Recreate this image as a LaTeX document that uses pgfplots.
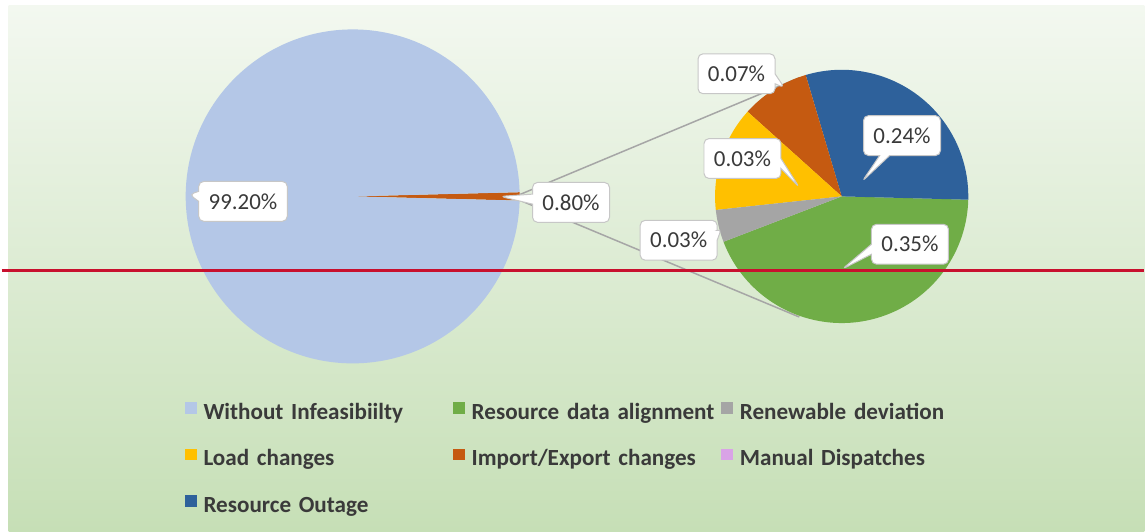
\documentclass[border=0pt]{standalone}
\usepackage{pgfplots}
\pgfplotsset{compat=1.18}
\usepackage{pgfplotstable}
\usepackage{fontspec}
\setmainfont{Carlito}
\usetikzlibrary{shapes.callouts}

\definecolor{bgtop}{HTML}{F3F8F0}
\definecolor{bgbot}{HTML}{C6DFB6}
\definecolor{cNone}{HTML}{B4C7E7}
\definecolor{cAlign}{HTML}{70AD47}
\definecolor{cRenew}{HTML}{A5A5A5}
\definecolor{cLoad}{HTML}{FFC000}
\definecolor{cImpExp}{HTML}{C55A11}
\definecolor{cManual}{HTML}{D9A3E6}
\definecolor{cOutage}{HTML}{2E619B}
\definecolor{txt}{HTML}{3A3A3A}
\definecolor{connector}{HTML}{A6A6A6}
\definecolor{redline}{HTML}{C8102E}

% primary pie (share of runs, %), label box centre lx,ly and pointer tip px,py in pixels
\pgfplotstableread{
value colour label lx ly px py
0.80  cImpExp 0.80  571 203 500 197
99.20 cNone   99.20 242 202 188 195
}\primary

% secondary pie: split of the 0.80 %
\pgfplotstableread{
value colour label lx ly px py
0.350 cAlign  0.35 911 245 843 270
0.240 cOutage 0.24 903 136 863 182
0.070 cImpExp 0.07 737 74  785 88
0.107 cLoad   0.03 743 159 800 188
0.033 cRenew  0.03 679 241 722 229
}\secondary

\tikzset{lbl/.style={rectangle callout, fill=white, draw=black!22, line width=0.5pt,
  rounded corners=2.5pt, inner xsep=5pt, inner ysep=0pt, minimum height=20pt,
  text=txt, font=\fontsize{11.5}{13}\selectfont, callout pointer width=5pt}}

% #1 table, #2 cx, #3 cy, #4 radius, #5 start angle, #6 total
\newcommand\drawpie[6]{%
  \pgfplotstablegetrowsof{#1}%
  \pgfmathtruncatemacro\lastrow{\pgfplotsretval-1}%
  \edef\curang{#5}%
  \pgfplotsforeachungrouped \r in {0,...,\lastrow}{%
    \pgfplotstablegetelem{\r}{value}\of{#1}\let\val\pgfplotsretval
    \pgfplotstablegetelem{\r}{colour}\of{#1}\let\col\pgfplotsretval
    \pgfmathsetmacro\nextang{\curang+(\val/#6)*360}%
    \edef\temp{\noexpand\fill[\col] (axis cs:#2,#3) -- ++(\curang:#4)
      arc[start angle=\curang, end angle=\nextang, radius=#4] -- cycle;}%
    \temp
    \let\curang\nextang
  }%
}

\newcommand\drawlabels[1]{%
  \pgfplotstablegetrowsof{#1}%
  \pgfmathtruncatemacro\lastrow{\pgfplotsretval-1}%
  \pgfplotsforeachungrouped \r in {0,...,\lastrow}{%
    \pgfplotstablegetelem{\r}{label}\of{#1}\let\lab\pgfplotsretval
    \pgfplotstablegetelem{\r}{lx}\of{#1}\let\lx\pgfplotsretval
    \pgfplotstablegetelem{\r}{ly}\of{#1}\let\ly\pgfplotsretval
    \pgfplotstablegetelem{\r}{px}\of{#1}\let\px\pgfplotsretval
    \pgfplotstablegetelem{\r}{py}\of{#1}\let\py\pgfplotsretval
    \edef\temp{\noexpand\node[lbl, callout absolute pointer={(axis cs:\px,\py)}]
      at (axis cs:\lx,\ly) {\lab\noexpand\%};}%
    \temp
  }%
}

\begin{document}
\begin{tikzpicture}
\begin{axis}[
  width=573pt, height=266.5pt, scale only axis,
  xmin=0, xmax=1146, ymin=0, ymax=533, y dir=reverse,
  hide axis, clip=false,
  legend columns=3,
  legend image code/.code={\fill[#1, draw=none] (0pt,0pt) rectangle (6pt,6pt);},
  legend style={at={(axis cs:183,403)}, anchor=north west, draw=none, fill=none,
    inner sep=0pt, text=txt, row sep=12pt,
    font=\fontsize{11.6}{13}\selectfont\bfseries,
    nodes={inner sep=0pt, text height=8pt, text depth=2.5pt},
    /tikz/every odd column/.append style={column sep=3.5pt}},
]
% frame and background
\fill[white] (axis cs:0,0) rectangle (axis cs:1146,533);
\shade[top color=bgtop, bottom color=bgbot] (axis cs:7,6) rectangle (axis cs:1146,533);

% connector lines between the pies
\draw[connector, line width=0.75pt] (axis cs:520,195) -- (axis cs:800,78);
\draw[connector, line width=0.75pt] (axis cs:520,201) -- (axis cs:800,318);

\drawpie{\primary}{352}{197}{83.75pt}{-1.44}{100}
\drawpie{\secondary}{842.5}{197}{63.5pt}{201}{0.80}

\drawlabels{\primary}
\drawlabels{\secondary}

\draw[redline, line width=1.75pt] (axis cs:0,271.5) -- (axis cs:1146,271.5);

\addlegendimage{fill=cNone}
\addlegendentry[text width=125pt]{Without Infeasibiilty}
\addlegendimage{fill=cAlign}
\addlegendentry[text width=125pt]{Resource data alignment}
\addlegendimage{fill=cRenew}
\addlegendentry[text width=125pt]{Renewable deviation}
\addlegendimage{fill=cLoad}
\addlegendentry[text width=125pt]{Load changes}
\addlegendimage{fill=cImpExp}
\addlegendentry[text width=125pt]{Import/Export changes}
\addlegendimage{fill=cManual}
\addlegendentry[text width=125pt]{Manual Dispatches}
\addlegendimage{fill=cOutage}
\addlegendentry[text width=125pt]{Resource Outage}
\end{axis}
\end{tikzpicture}
\end{document}
